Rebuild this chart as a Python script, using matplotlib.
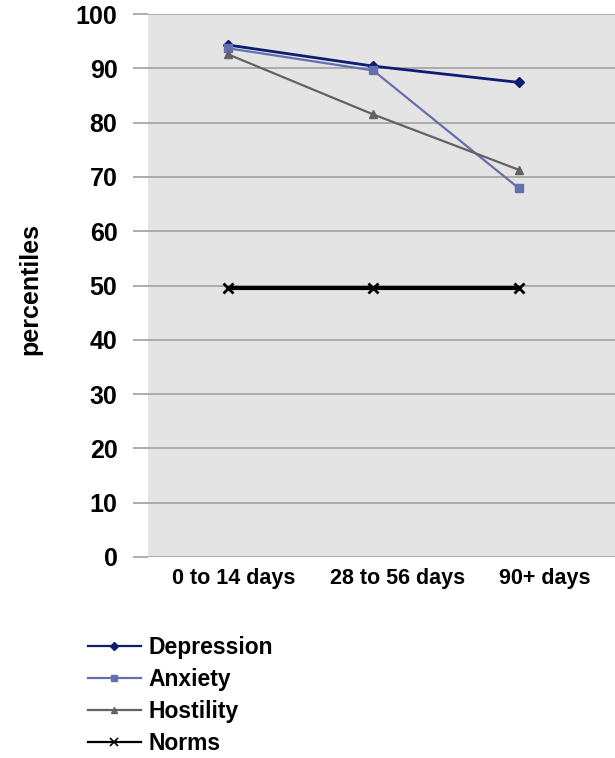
import matplotlib
matplotlib.use("Agg")
import matplotlib.pyplot as plt
from matplotlib.lines import Line2D

plt.rcParams['font.family'] = ['Liberation Sans', 'DejaVu Sans']

categories = ["0 to 14 days", "28 to 56 days", "90+ days"]
depression = [94.3, 90.4, 87.4]
anxiety = [93.7, 89.6, 67.9]
hostility = [92.6, 81.5, 71.3]
norms = [49.6, 49.6, 49.6]
yticks = [0, 10, 20, 30, 40, 50, 60, 70, 80, 90, 100]

fig = plt.figure(figsize=(6.15, 7.58), dpi=100)
ax = fig.add_axes([148/615, 1-557/758, 1-148/615, (557-14)/758])
ax.set_facecolor('#e4e4e4')

x = list(range(len(categories)))
series = [
    ("Depression", depression, '#0c1d72', 'D', 5, 2.0),
    ("Anxiety", anxiety, '#6470ad', 's', 6, 1.6),
    ("Hostility", hostility, '#626262', '^', 6, 1.6),
    ("Norms", norms, '#000000', 'x', 7, 3.0),
]
handles = []
for name, vals, col, mk, ms, lw in series:
    mew = 2.0 if mk == 'x' else 1
    ax.plot(x, vals, color=col, marker=mk, markersize=ms, linewidth=lw,
            markeredgewidth=mew, label=name, zorder=3)
    handles.append(Line2D([], [], color=col, marker=mk, markersize=ms - 1,
                          linewidth=1.6, markeredgewidth=1.2 if mk == 'x' else 1,
                          label=name))

ax.set_ylim(0, 100)
ax.set_xlim(-0.547, 2.66)
ax.set_yticks(yticks)
ax.set_yticklabels([str(t) for t in yticks], fontsize=18, fontweight='bold')
# category labels sit slightly right of the data points in the reference
label_shift = [0.04, 0.17, 0.18]
ax.set_xticks([i + s for i, s in zip(x, label_shift)])
ax.set_xticklabels(categories, fontsize=15.5, fontweight='bold')
ax.yaxis.grid(True, color='#a6a6a6', linewidth=1.3)
ax.set_axisbelow(True)
for s in ax.spines.values():
    s.set_visible(False)
ax.tick_params(axis='y', length=11, width=1.3, color='#a6a6a6', pad=11)
ax.tick_params(axis='x', length=0, pad=8)
fig.text(30/615, 1-289/758, "percentiles", rotation=90, fontsize=18, fontweight='bold',
         ha='center', va='center')

leg = fig.legend(handles=handles, loc='upper left', bbox_to_anchor=(88/615, 1-636/758),
                 frameon=False, prop={'size': 16.5, 'weight': 'bold'},
                 handlelength=2.3, handletextpad=0.35, labelspacing=0.4,
                 borderaxespad=0, borderpad=0)

fig.savefig("out.png", dpi=100)
